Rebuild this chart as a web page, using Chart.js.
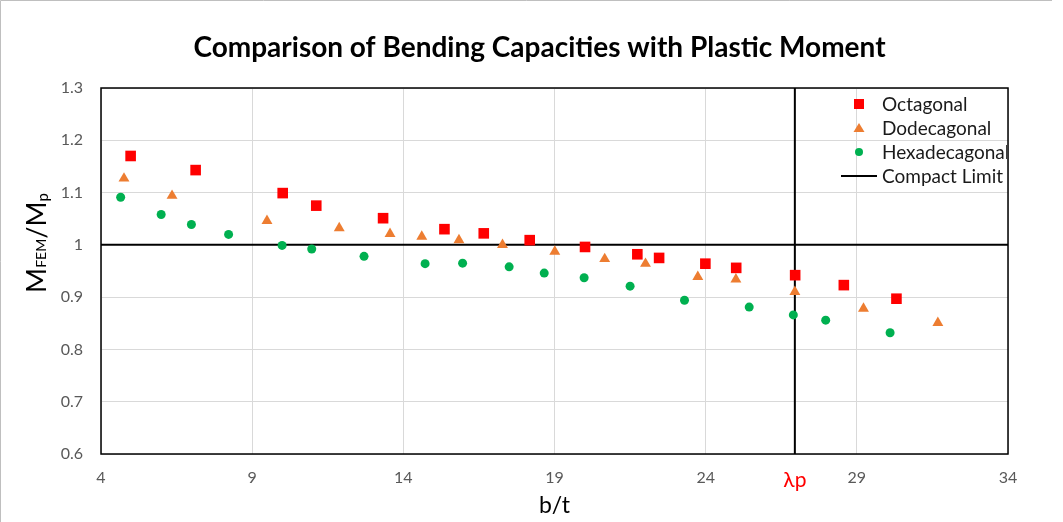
<!DOCTYPE html>
<html>
<head>
<meta charset="utf-8">
<script src="https://cdn.jsdelivr.net/npm/chart.js@4.4.1/dist/chart.umd.min.js"></script>
<style>
html, body { margin: 0; padding: 0; background: #fff; }
#wrap { position: relative; width: 1063px; height: 522px; }
</style>
</head>
<body>
<div id="wrap"><canvas id="chart" width="1063" height="522"></canvas></div>
<script>
// b/t values and M_FEM/Mp ratios
const octX = [4.98, 7.13, 10.01, 11.12, 13.33, 15.36, 16.66, 18.18, 20.01, 21.74, 22.46, 23.99, 25.01, 26.96, 28.57, 30.31];
const octY = [1.170, 1.143, 1.099, 1.075, 1.051, 1.030, 1.022, 1.009, 0.996, 0.982, 0.975, 0.964, 0.956, 0.942, 0.923, 0.897];

const dodX = [4.76, 6.35, 9.49, 11.88, 13.56, 14.61, 15.84, 17.28, 19.01, 20.66, 22.01, 23.74, 25.00, 26.95, 29.22, 31.68];
const dodY = [1.127, 1.094, 1.046, 1.032, 1.021, 1.016, 1.009, 1.000, 0.987, 0.973, 0.964, 0.939, 0.934, 0.910, 0.878, 0.851];

const hexX = [4.65, 5.99, 6.99, 8.22, 9.99, 10.97, 12.70, 14.72, 15.96, 17.50, 18.66, 19.98, 21.50, 23.30, 25.44, 26.90, 27.97, 30.10];
const hexY = [1.091, 1.058, 1.039, 1.020, 0.999, 0.992, 0.978, 0.964, 0.965, 0.958, 0.946, 0.937, 0.921, 0.894, 0.881, 0.866, 0.856, 0.832];

const lambdaP = 26.95;
const xTicks = [4, 9, 14, 19, 24, 29, 34];
const yRange = [0.6, 1.3];

const pts = (xs, ys) => xs.map((x, i) => ({ x: x, y: ys[i] }));

// outer frame, plot border, y title with subscripts, legend
const extras = {
    id: 'extras',
    beforeDatasetsDraw(chart) {
        const ctx = chart.ctx;
        const a = chart.chartArea;
        ctx.save();
        ctx.strokeStyle = '#bfbfbf';
        ctx.lineWidth = 1;
        ctx.beginPath();
        ctx.moveTo(0.5, 522);
        ctx.lineTo(0.5, 0.5);
        ctx.lineTo(1052, 0.5);
        ctx.stroke();
        ctx.strokeStyle = '#000';
        ctx.lineWidth = 1.5;
        ctx.strokeRect(a.left, a.top, a.right - a.left, a.bottom - a.top);
        ctx.restore();
    },
    afterDraw(chart) {
        const ctx = chart.ctx;
        ctx.save();
        // y axis title: M(FEM)/M(p)
        const parts = [
            { t: 'M', size: 27, dy: 0 },
            { t: 'FEM', size: 14, dy: 0 },
            { t: '/M', size: 27, dy: 0 },
            { t: 'p', size: 15, dy: 2 }
        ];
        let total = 0;
        parts.forEach(p => {
            ctx.font = p.size + 'px Lato';
            p.w = ctx.measureText(p.t).width;
            total += p.w;
        });
        ctx.translate(38, 243);
        ctx.rotate(-Math.PI / 2);
        ctx.fillStyle = '#000';
        ctx.textBaseline = 'alphabetic';
        let x = -total / 2;
        parts.forEach(p => {
            ctx.font = p.size + 'px Lato';
            ctx.fillText(p.t, x, 8 + p.dy);
            x += p.w;
        });
        ctx.restore();

        // legend
        ctx.save();
        const rows = [104, 128, 152, 176];
        const mx = 859, tx = 882;
        ctx.font = '19px Lato';
        ctx.textBaseline = 'middle';
        ctx.fillStyle = '#ff0000';
        ctx.fillRect(mx - 5, rows[0] - 5, 10, 10);
        ctx.fillStyle = '#ed7d31';
        ctx.beginPath();
        ctx.moveTo(mx, rows[1] - 5);
        ctx.lineTo(mx + 5.5, rows[1] + 4);
        ctx.lineTo(mx - 5.5, rows[1] + 4);
        ctx.closePath();
        ctx.fill();
        ctx.fillStyle = '#00b050';
        ctx.beginPath();
        ctx.arc(mx, rows[2], 4, 0, Math.PI * 2);
        ctx.fill();
        ctx.strokeStyle = '#000';
        ctx.lineWidth = 2;
        ctx.beginPath();
        ctx.moveTo(841, rows[3]);
        ctx.lineTo(877, rows[3]);
        ctx.stroke();
        // legend text is clipped by the plot border like the original
        ctx.beginPath();
        ctx.rect(0, 0, chart.chartArea.right - 1, 522);
        ctx.clip();
        ctx.fillStyle = '#1a1a1a';
        const labels = chart.data.datasets.slice(0, 4).map(d => d.label);
        labels.forEach((l, i) => ctx.fillText(l, tx, rows[i] + 1));
        ctx.restore();
    }
};

new Chart(document.getElementById('chart'), {
    type: 'scatter',
    data: {
        datasets: [
            {
                label: 'Octagonal',
                data: pts(octX, octY),
                pointStyle: 'rect',
                pointRadius: 7.5,
                backgroundColor: '#ff0000',
                borderWidth: 0,
                order: 0
            },
            {
                label: 'Dodecagonal',
                data: pts(dodX, dodY),
                pointStyle: 'triangle',
                pointRadius: 6.3,
                backgroundColor: '#ed7d31',
                borderWidth: 0,
                order: 0
            },
            {
                label: 'Hexadecagonal',
                data: pts(hexX, hexY),
                pointStyle: 'circle',
                pointRadius: 4.5,
                backgroundColor: '#00b050',
                borderWidth: 0,
                order: 0
            },
            {
                label: 'Compact Limit',
                data: [{ x: lambdaP, y: yRange[0] }, { x: lambdaP, y: yRange[1] }],
                showLine: true,
                borderColor: '#000',
                borderWidth: 2,
                pointRadius: 0,
                order: 1
            },
            {
                label: 'Mp',
                data: [{ x: xTicks[0], y: 1 }, { x: xTicks[xTicks.length - 1], y: 1 }],
                showLine: true,
                borderColor: '#000',
                borderWidth: 2,
                pointRadius: 0,
                order: 1
            }
        ]
    },
    options: {
        responsive: false,
        animation: false,
        // small left padding shifts the centred title to where the original has it
        layout: { padding: { left: 16, right: 0, top: 0, bottom: 0 } },
        plugins: {
            legend: { display: false },
            tooltip: { enabled: false },
            title: {
                display: true,
                text: 'Comparison of Bending Capacities with Plastic Moment',
                color: '#000',
                font: { family: 'Lato', size: 28, weight: 'bold' },
                padding: { top: 31, bottom: 23.4 }
            }
        },
        scales: {
            x: {
                type: 'linear',
                min: xTicks[0],
                max: xTicks[xTicks.length - 1],
                afterBuildTicks: s => {
                    s.ticks = xTicks.concat([lambdaP]).sort((a, b) => a - b).map(v => ({ value: v }));
                },
                afterFit: s => { s.height = 68; },
                ticks: {
                    autoSkip: false,
                    maxRotation: 0,
                    padding: 14,
                    font: c => (c.tick && c.tick.value === lambdaP)
                        ? { family: 'Lato', size: 21 }
                        : { family: 'Lato', size: 16 },
                    color: c => c.tick && c.tick.value === lambdaP ? '#ff0000' : '#595959',
                    callback: v => v === lambdaP ? 'λp' : String(v)
                },
                grid: {
                    drawTicks: false,
                    color: c => c.tick && c.tick.value === lambdaP ? 'rgba(0,0,0,0)' : '#d9d9d9'
                },
                border: { display: false },
                title: {
                    display: true,
                    text: 'b/t',
                    color: '#000',
                    font: { family: 'Lato', size: 23 },
                    padding: { top: 0, bottom: 3 }
                }
            },
            y: {
                min: yRange[0],
                max: yRange[1],
                afterFit: s => { s.width = 85; },
                ticks: {
                    stepSize: 0.1,
                    padding: 18,
                    font: { family: 'Lato', size: 16 },
                    color: '#595959',
                    callback: v => {
                        const r = Math.round(v * 10) / 10;
                        return r === 1 ? '1' : r.toFixed(1);
                    }
                },
                grid: { drawTicks: false, color: '#d9d9d9' },
                border: { display: false }
            },
            // empty right-hand strip, reserves the space to the right of the plot
            yRight: {
                position: 'right',
                min: yRange[0],
                max: yRange[1],
                afterFit: s => { s.width = 55; },
                ticks: { display: false },
                grid: { display: false },
                border: { display: false }
            }
        }
    },
    plugins: [extras]
});
</script>
</body>
</html>
